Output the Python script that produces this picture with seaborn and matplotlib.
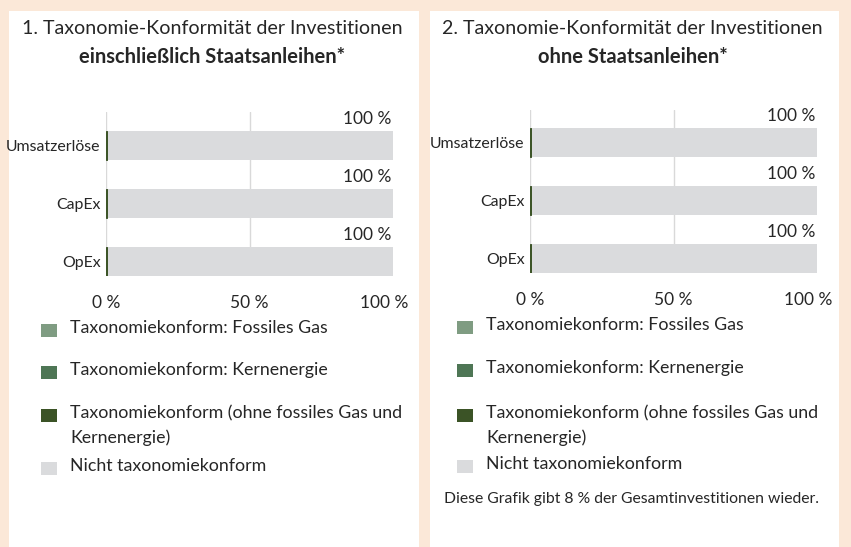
import matplotlib
matplotlib.use("Agg")
import matplotlib.pyplot as plt
from matplotlib.patches import Rectangle
from matplotlib.transforms import ScaledTranslation
import pandas as pd
import seaborn as sns

# ---- data -------------------------------------------------------------
categories = ["Umsatzerlöse", "CapEx", "OpEx"]

# chart 1: including sovereign bonds
incl_fossil_gas = [0.0, 0.0, 0.0]
incl_nuclear = [0.0, 0.0, 0.0]
incl_aligned = [0.4, 0.4, 0.4]
incl_not_aligned = [100, 100, 100]

# chart 2: excluding sovereign bonds
excl_fossil_gas = [0.0, 0.0, 0.0]
excl_nuclear = [0.0, 0.0, 0.0]
excl_aligned = [0.4, 0.4, 0.4]
excl_not_aligned = [100, 100, 100]

x_ticks = [0, 50, 100]
x_tick_labels = ["0 %", "50 %", "100 %"]

legend_labels = [
    "Taxonomiekonform: Fossiles Gas",
    "Taxonomiekonform: Kernenergie",
    "Taxonomiekonform (ohne fossiles Gas und\nKernenergie)",
    "Nicht taxonomiekonform",
]
legend_colors = ["#7f9c82", "#4e7655", "#3b5326", "#dadbdd"]

titles = [
    ("1. Taxonomie-Konformität der Investitionen", "einschließlich Staatsanleihen*"),
    ("2. Taxonomie-Konformität der Investitionen", "ohne Staatsanleihen*"),
]
footnote = "Diese Grafik gibt 8 % der Gesamtinvestitionen wieder."

# ---- styling ----------------------------------------------------------
sns.set_theme(style="white")
plt.rcParams["font.family"] = ["Lato", "DejaVu Sans"]
TEXT = "#262626"
BG = "#fbe8d8"
GRID = "#d9d9d9"

W, H = 851, 547
fig = plt.figure(figsize=(W / 100, H / 100), dpi=100, facecolor=BG)


def fx(px):
    return px / W


def fy(py):
    return 1 - py / H


def make_panel(panel_left, panel_right, ax_left, ax_right, ax_top, ax_bottom,
               top_gap, title, gas, nuc, aligned, not_aligned, leg_x, leg_ys,
               note=None):
    # white card
    fig.add_artist(Rectangle((fx(panel_left), 0), fx(panel_right - panel_left),
                             fy(11), transform=fig.transFigure,
                             facecolor="white", edgecolor="none", zorder=0))
    cx = (panel_left + panel_right) / 2 - 2
    fig.text(fx(cx), fy(28), title[0], ha="center", va="center",
             fontsize=14.1, color=TEXT)
    fig.text(fx(cx), fy(57), title[1], ha="center", va="center",
             fontsize=14.5, fontweight="bold", color=TEXT)

    ax = fig.add_axes([fx(ax_left), fy(ax_bottom), fx(ax_right - ax_left),
                       (ax_bottom - ax_top) / H])
    ax.set_facecolor("none")

    df = pd.DataFrame({
        "Kategorie": categories,
        "gas": gas, "nuc": nuc, "aligned": aligned, "not": not_aligned,
    })
    sns.barplot(data=df, y="Kategorie", x="not", orient="h", color=legend_colors[3],
                width=0.5, saturation=1, linewidth=0, ax=ax, zorder=2)
    sns.barplot(data=df, y="Kategorie", x="gas", orient="h", color=legend_colors[0],
                width=0.5, saturation=1, linewidth=0, ax=ax, zorder=3)
    sns.barplot(data=df, y="Kategorie", x="nuc", orient="h", color=legend_colors[1],
                width=0.5, saturation=1, linewidth=0, ax=ax, zorder=3)
    sns.barplot(data=df, y="Kategorie", x="aligned", orient="h", color=legend_colors[2],
                width=0.5, saturation=1, linewidth=0.7,
                edgecolor=legend_colors[2], ax=ax, zorder=4)

    ax.set_xlim(0, 100)
    ax.set_ylim(len(categories) - 0.75, -0.5 - top_gap)
    ax.set_xlabel("")
    ax.set_ylabel("")
    for s in ax.spines.values():
        s.set_visible(False)

    ax.set_xticks(x_ticks)
    ax.set_xticklabels(x_tick_labels)
    ax.tick_params(axis="x", length=0, pad=14, labelsize=12.5, labelcolor=TEXT)
    ax.tick_params(axis="y", length=0, pad=4, labelsize=11.4, labelcolor=TEXT)
    ax.xaxis.grid(True, color=GRID, linewidth=1, zorder=0)
    ax.set_axisbelow(True)
    ax.get_xgridlines()[-1].set_visible(False)
    # nudge the last tick label inwards, as in the report layout
    last = ax.get_xticklabels()[-1]
    last.set_transform(last.get_transform()
                       + ScaledTranslation(-0.09, 0, fig.dpi_scale_trans))

    # value labels above each bar
    for i, v in enumerate(not_aligned):
        ax.annotate(f"{v:.0f} %", xy=(v, i - 0.25), xytext=(-1, 3),
                    textcoords="offset points", ha="right", va="bottom",
                    fontsize=12.5, color=TEXT)

    # legend
    for label, color, ly in zip(legend_labels, legend_colors, leg_ys):
        fig.add_artist(Rectangle((fx(leg_x), fy(ly + 6.5)), fx(16), 13 / H,
                                 transform=fig.transFigure, facecolor=color,
                                 edgecolor="none"))
        first, *rest = label.split("\n")
        fig.text(fx(leg_x + 29), fy(ly - 2), first, ha="left", va="center",
                 fontsize=12.8, color=TEXT)
        for k, line in enumerate(rest, start=1):
            fig.text(fx(leg_x + 29), fy(ly - 2 + 25 * k), line, ha="left",
                     va="center", fontsize=12.8, color=TEXT)
    if note:
        fig.text(fx(444), fy(499), note, ha="left", va="center",
                 fontsize=11.3, color=TEXT)
    return ax


make_panel(9, 419, 106, 393, 112, 276, 0.078, titles[0],
           incl_fossil_gas, incl_nuclear, incl_aligned, incl_not_aligned,
           41, [330, 372, 415, 468])
make_panel(430, 839, 530, 817, 110, 273, 0.06, titles[1],
           excl_fossil_gas, excl_nuclear, excl_aligned, excl_not_aligned,
           457, [327, 370, 415, 466], note=footnote)

fig.savefig("out.png", dpi=100, facecolor=BG)
